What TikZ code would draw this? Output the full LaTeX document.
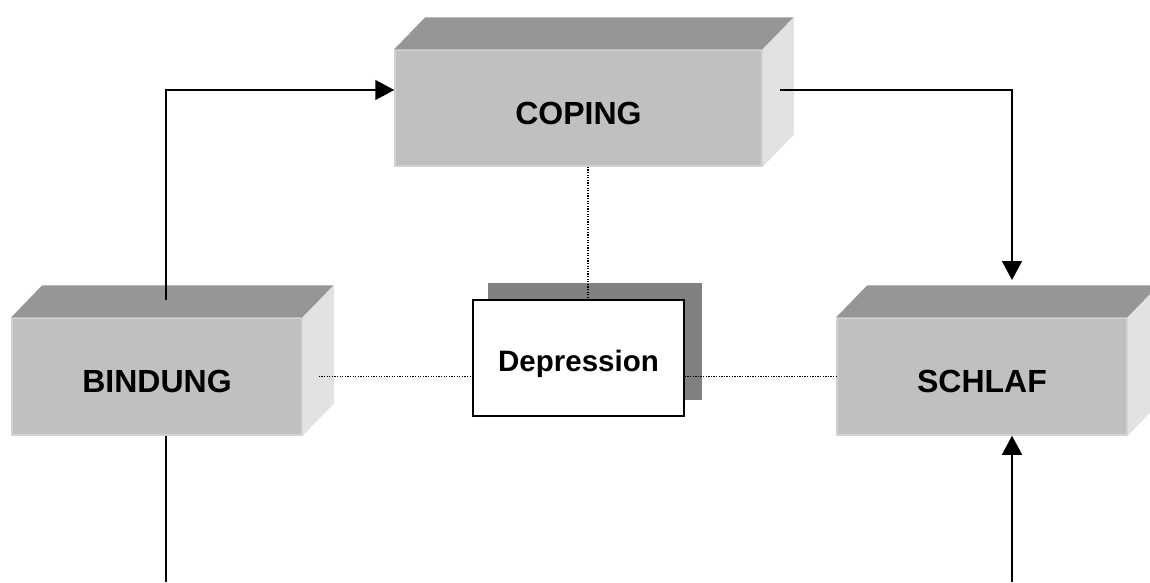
\documentclass[tikz,border=0pt]{standalone}
\usepackage{fontspec}
\setmainfont{Liberation Sans}
\usetikzlibrary{arrows.meta}
\definecolor{frontgray}{RGB}{192,192,192}
\definecolor{topgray}{RGB}{150,150,150}
\definecolor{sidegray}{RGB}{226,226,226}
\definecolor{edgegray}{RGB}{210,210,210}
\definecolor{shadowgray}{RGB}{128,128,128}
\tikzset{
    block/.style={fill=frontgray,draw=edgegray,line width=1.5pt,minimum width=290pt,minimum height=117pt,
        inner sep=0pt,text height=32pt,text depth=0pt,font=\fontsize{32}{38}\selectfont\bfseries},
    conn/.style={line width=1.5pt,-{Triangle[length=19pt,width=20pt]}},
    plain/.style={line width=1.5pt},
    dots/.style={line width=1.3pt,dash pattern=on 1.3pt off 1.3pt}
}
\begin{document}
\begin{tikzpicture}[x=1pt,y=-1pt]
        \useasboundingbox (0,0) rectangle (1150,582);
        \clip (0,0) rectangle (1150,582);
        \node[block,minimum width=367pt,minimum height=116pt] (coping) at (578.5,108) {COPING};
        \node[block] (bindung) at (157,376.5) {BINDUNG};
        \node[block] (schlaf) at (982,376.5) {SCHLAF};
        \foreach \b in {coping,bindung,schlaf}%
        {%
            \fill[topgray] (\b.north west) -- ++(31,-32) -- ([shift={(31,-32)}]\b.north east) -- (\b.north east) -- cycle;
            \fill[sidegray] (\b.north east) -- ++(31,-32) -- ([shift={(31,-32)}]\b.south east) -- (\b.south east) -- cycle;
        }%
        % depression with shadow
        \fill[shadowgray] (488,283) rectangle (702,400);
        \node[draw,line width=1.6pt,fill=white,minimum width=211pt,minimum height=116pt,inner sep=0pt,
            text height=30pt,text depth=4pt,font=\fontsize{29.5}{35}\selectfont\bfseries] (depr) at (578.5,358) {Depression};
        %
        \coordinate (bintop) at (166,300);
        \coordinate (binbot) at (166,582);
        \coordinate (copout) at (780,90);
        \coordinate (schin) at (1012,280);
        \coordinate (schbot) at (1012,582);
        \coordinate (dtop) at (588,300);
        \draw[conn] (bintop) |- ([yshift=18pt]coping.west);
        \draw[conn] (copout) -| (schin);
        \draw[plain] (binbot |- bindung.south) -- (binbot);
        \draw[conn] (schbot) -- (schbot |- schlaf.south);
        \draw[dots] (dtop |- coping.south) -- (dtop |- depr.north);
        \draw[dots] ([xshift=16pt]bindung.east) -- (depr.west |- bindung.east);
        \draw[dots] (depr.east |- schlaf.west) -- (schlaf.west);
    \end{tikzpicture}
\end{document}
